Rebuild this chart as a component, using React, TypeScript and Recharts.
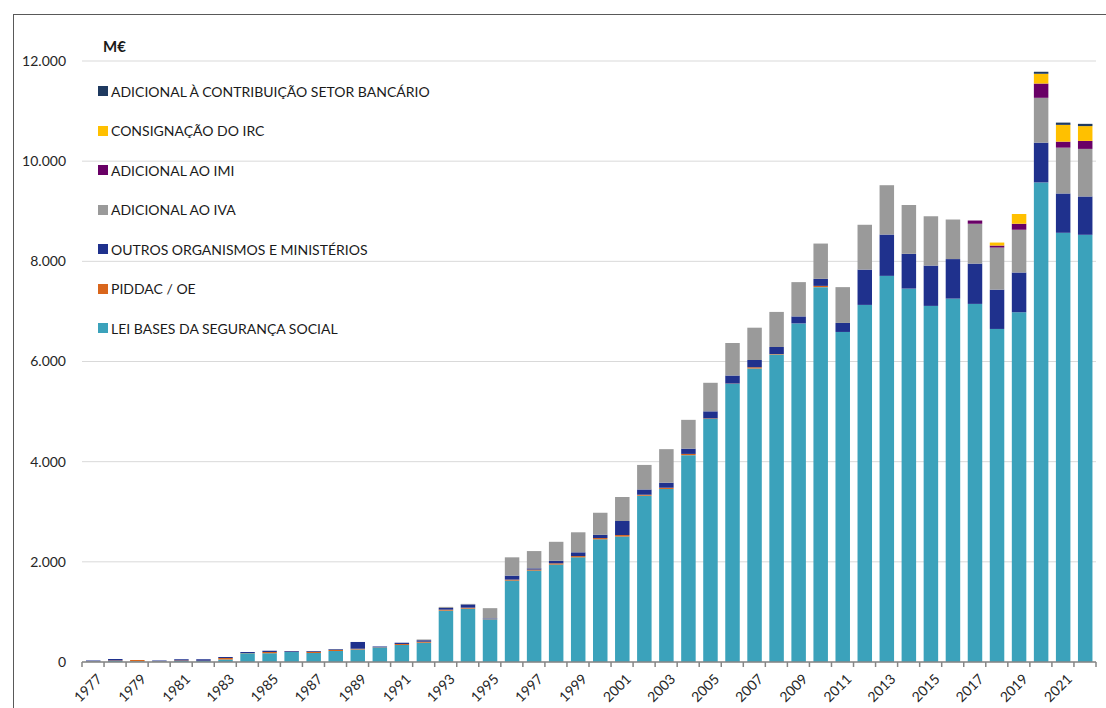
import React from 'react';
import { BarChart, Bar, XAxis, YAxis, CartesianGrid, Legend } from 'recharts';

const FONT = 'Lato, "Liberation Sans", sans-serif';

const years = [
  1977, 1978, 1979, 1980, 1981, 1982, 1983, 1984, 1985, 1986,
  1987, 1988, 1989, 1990, 1991, 1992, 1993, 1994, 1995, 1996,
  1997, 1998, 1999, 2000, 2001, 2002, 2003, 2004, 2005, 2006,
  2007, 2008, 2009, 2010, 2011, 2012, 2013, 2014, 2015, 2016,
  2017, 2018, 2019, 2020, 2021, 2022,
];

// M€ por fonte de financiamento
const leiBases = [
  10, 20, 15, 10, 20, 20, 50, 175, 175, 200,
  180, 220, 250, 290, 340, 385, 1025, 1065, 850, 1625,
  1825, 1945, 2090, 2450, 2505, 3320, 3455, 4130, 4855, 5555,
  5860, 6140, 6760, 7485, 6590, 7130, 7710, 7455, 7110, 7255,
  7150, 6650, 6985, 9575, 8570, 8530,
];
const piddac = [
  5, 10, 25, 5, 10, 5, 30, 5, 25, 5,
  25, 20, 15, 5, 20, 20, 20, 20, 5, 20,
  20, 25, 25, 25, 30, 20, 25, 25, 10, 5,
  25, 10, 0, 25, 0, 0, 0, 0, 0, 0,
  0, 0, 0, 0, 0, 0,
];
const outros = [
  15, 30, 0, 15, 25, 30, 20, 20, 25, 15,
  15, 15, 135, 15, 25, 30, 35, 65, 15, 80,
  25, 50, 75, 65, 280, 105, 100, 105, 140, 160,
  145, 140, 140, 140, 180, 705, 825, 695, 805, 790,
  805, 785, 790, 795, 785, 765,
];
const adicionalIva = [
  0, 0, 0, 0, 0, 0, 0, 0, 0, 0,
  0, 5, 0, 0, 0, 15, 20, 10, 205, 365,
  345, 380, 400, 440, 480, 490, 670, 575, 570, 650,
  645, 700, 685, 705, 715, 895, 985, 975, 985, 790,
  795, 840, 855, 895, 915, 950,
];
const adicionalImi = [
  0, 0, 0, 0, 0, 0, 0, 0, 0, 0,
  0, 0, 0, 0, 0, 0, 0, 0, 0, 0,
  0, 0, 0, 0, 0, 0, 0, 0, 0, 0,
  0, 0, 0, 0, 0, 0, 0, 0, 0, 0,
  65, 40, 120, 285, 120, 160,
];
const consignacaoIrc = [
  0, 0, 0, 0, 0, 0, 0, 0, 0, 0,
  0, 0, 0, 0, 0, 0, 0, 0, 0, 0,
  0, 0, 0, 0, 0, 0, 0, 0, 0, 0,
  0, 0, 0, 0, 0, 0, 0, 0, 0, 0,
  0, 60, 195, 195, 335, 295,
];
const adicionalCsb = [
  0, 0, 0, 0, 0, 0, 0, 0, 0, 0,
  0, 0, 0, 0, 0, 0, 0, 0, 0, 0,
  0, 0, 0, 0, 0, 0, 0, 0, 0, 0,
  0, 0, 0, 0, 0, 0, 0, 0, 0, 0,
  0, 0, 0, 40, 45, 45,
];

const yTicks = [0, 2000, 4000, 6000, 8000, 10000, 12000];

// stacking order, bottom to top
const series = [
  { key: 'lei', name: 'LEI BASES DA SEGURANÇA SOCIAL', color: '#3BA2BB' },
  { key: 'piddac', name: 'PIDDAC / OE', color: '#D9661C' },
  { key: 'outros', name: 'OUTROS ORGANISMOS E MINISTÉRIOS', color: '#1F318D' },
  { key: 'iva', name: 'ADICIONAL AO IVA', color: '#9A9A9A' },
  { key: 'imi', name: 'ADICIONAL AO IMI', color: '#690066' },
  { key: 'irc', name: 'CONSIGNAÇÃO DO IRC', color: '#FFC000' },
  { key: 'csb', name: 'ADICIONAL À CONTRIBUIÇÃO SETOR BANCÁRIO', color: '#1F3A60' },
];

const data = years.map((year, i) => ({
  year: String(year),
  lei: leiBases[i],
  piddac: piddac[i],
  outros: outros[i],
  iva: adicionalIva[i],
  imi: adicionalImi[i],
  irc: consignacaoIrc[i],
  csb: adicionalCsb[i],
}));

const CHART_W = 1106;
const CHART_H = 708;
const MARGIN = { top: 61, right: 10, bottom: 0, left: 0 };
const Y_WIDTH = 82;
const BAND = (CHART_W - MARGIN.left - MARGIN.right - Y_WIDTH) / years.length;

const fmtThousands = (v: number) =>
  String(v).replace(/\B(?=(\d{3})+(?!\d))/g, '.');

const YearTick = (props: any) => {
  const { x, y, payload, index } = props;
  const half = BAND / 2;
  return (
    <g>
      <line x1={x - half} x2={x - half} y1={y} y2={y + 5} stroke="#868686" strokeWidth={1.5} />
      {index === years.length - 1 && (
        <line x1={x + half} x2={x + half} y1={y} y2={y + 5} stroke="#868686" strokeWidth={1.5} />
      )}
      {index % 2 === 0 && (
        <text
          transform={`translate(${x + 10},${y + 18}) rotate(-45)`}
          textAnchor="end"
          fontSize={14}
          fontFamily={FONT}
          fill="#262626"
        >
          {payload.value}
        </text>
      )}
    </g>
  );
};

const renderLegend = () => (
  <div style={{ position: 'relative', width: 400, height: 310, fontFamily: FONT, color: '#1a1a1a' }}>
    <div style={{ position: 'absolute', left: 5, top: 0, height: 18, lineHeight: '18px', fontWeight: 700, fontSize: 15 }}>
      M€
    </div>
    {[...series].reverse().map((s, i) => (
      <div
        key={s.key}
        style={{
          position: 'absolute',
          left: 0,
          top: 54 + i * 39.5 - 8,
          height: 16,
          display: 'flex',
          alignItems: 'center',
          whiteSpace: 'nowrap',
        }}
      >
        <span style={{ display: 'inline-block', width: 10, height: 10, background: s.color, marginRight: 3 }} />
        <span style={{ fontSize: 14 }}>{s.name}</span>
      </div>
    ))}
  </div>
);

export default function App() {
  return (
    <div style={{ position: 'absolute', left: 0, top: 0, width: CHART_W, height: CHART_H, background: '#fff', overflow: 'hidden' }}>
      <div
        style={{
          position: 'absolute',
          left: 13,
          top: 14,
          width: CHART_W,
          height: CHART_H,
          borderTop: '1px solid #595959',
          borderLeft: '1px solid #595959',
        }}
      />
      <BarChart width={CHART_W} height={CHART_H} data={data} margin={MARGIN} barSize={14.5}>
        <CartesianGrid vertical={false} stroke="#D9D9D9" />
        <XAxis
          dataKey="year"
          height={46}
          interval={0}
          tickSize={0}
          tickMargin={0}
          tickLine={false}
          axisLine={{ stroke: '#868686', strokeWidth: 1.5 }}
          tick={<YearTick />}
        />
        <YAxis
          width={Y_WIDTH}
          domain={[0, 12000]}
          ticks={yTicks}
          axisLine={false}
          tickLine={false}
          tickMargin={10}
          tickFormatter={fmtThousands}
          tick={{ fill: '#262626', fontSize: 14, fontFamily: FONT }}
        />
        <Legend
          layout="vertical"
          align="center"
          verticalAlign="middle"
          content={renderLegend}
          wrapperStyle={{ left: 98, top: 37, width: 400 }}
        />
        {series.map((s) => (
          <Bar key={s.key} dataKey={s.key} name={s.name} stackId="a" fill={s.color} isAnimationActive={false} />
        ))}
      </BarChart>
    </div>
  );
}
